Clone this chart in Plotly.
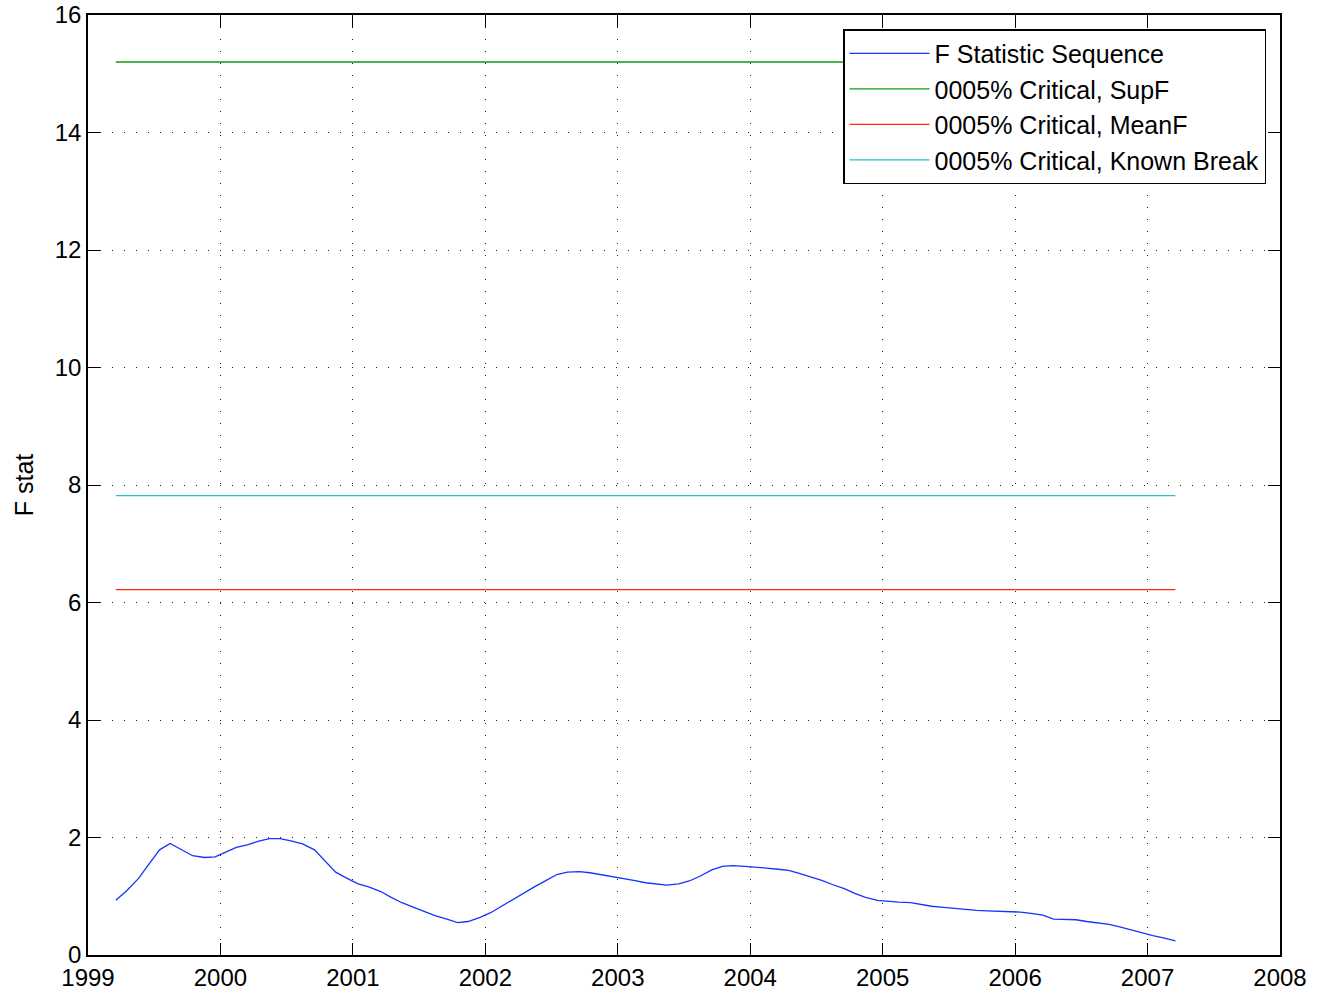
import plotly.graph_objects as go

# ---------------- data ----------------
years = [
    1999.21, 1999.29, 1999.38, 1999.46, 1999.54, 1999.62, 1999.71, 1999.79, 1999.88, 1999.96,
    2000.04, 2000.12, 2000.21, 2000.29, 2000.37, 2000.45, 2000.54, 2000.62, 2000.71, 2000.79, 2000.87, 2000.96,
    2001.04, 2001.12, 2001.21, 2001.29, 2001.37, 2001.46, 2001.54, 2001.62, 2001.71, 2001.79, 2001.87, 2001.96,
    2002.04, 2002.12, 2002.21, 2002.29, 2002.37, 2002.46, 2002.54, 2002.62, 2002.71, 2002.79, 2002.87, 2002.96,
    2003.04, 2003.12, 2003.21, 2003.29, 2003.37, 2003.46, 2003.54, 2003.62, 2003.71, 2003.79, 2003.87, 2003.96,
    2004.04, 2004.12, 2004.21, 2004.29, 2004.37, 2004.46, 2004.54, 2004.62, 2004.71, 2004.79, 2004.87, 2004.96,
    2005.04, 2005.12, 2005.21, 2005.29, 2005.37, 2005.46, 2005.54, 2005.62, 2005.71, 2005.79, 2005.87, 2005.96,
    2006.04, 2006.12, 2006.21, 2006.29, 2006.37, 2006.46, 2006.54, 2006.62, 2006.71, 2006.79, 2006.87, 2006.96,
    2007.04, 2007.12, 2007.21,
]
f_stat = [
    0.93, 1.09, 1.30, 1.55, 1.79, 1.90, 1.79, 1.69, 1.66, 1.67,
    1.75, 1.83, 1.88, 1.94, 1.98, 1.98, 1.94, 1.89, 1.79, 1.60, 1.41, 1.30,
    1.21, 1.16, 1.08, 0.98, 0.89, 0.81, 0.74, 0.67, 0.61, 0.55, 0.57, 0.64,
    0.72, 0.83, 0.95, 1.06, 1.16, 1.27, 1.37, 1.41, 1.42, 1.40, 1.37, 1.33,
    1.31, 1.27, 1.23, 1.21, 1.19, 1.21, 1.26, 1.34, 1.45, 1.51, 1.52, 1.51,
    1.50, 1.48, 1.46, 1.44, 1.39, 1.33, 1.27, 1.20, 1.13, 1.05, 0.98, 0.93,
    0.91, 0.90, 0.89, 0.86, 0.83, 0.81, 0.79, 0.77, 0.76, 0.75, 0.745, 0.74,
    0.73, 0.71, 0.68, 0.61, 0.60, 0.60, 0.57, 0.55, 0.52, 0.48, 0.43, 0.38,
    0.33, 0.29, 0.24,
]
crit_supf = 15.2
crit_meanf = 6.22
crit_known = 7.82

series_names = [
    "F Statistic Sequence",
    "0005% Critical, SupF",
    "0005% Critical, MeanF",
    "0005% Critical, Known Break",
]
x_ticks = [1999, 2000, 2001, 2002, 2003, 2004, 2005, 2006, 2007, 2008]
y_ticks = [0, 2, 4, 6, 8, 10, 12, 14, 16]
y_label = "F stat"

# ---------------- figure ----------------
FONT = "Liberation Sans, Arial, Helvetica, sans-serif"
x_span = [years[0], years[-1]]

fig = go.Figure()
fig.add_trace(go.Scatter(x=years, y=f_stat, mode="lines", name=series_names[0],
                         line=dict(color="#1434FF", width=1.3)))
fig.add_trace(go.Scatter(x=x_span, y=[crit_supf, crit_supf], mode="lines", name=series_names[1],
                         line=dict(color="#109A10", width=1.3)))
fig.add_trace(go.Scatter(x=x_span, y=[crit_meanf, crit_meanf], mode="lines", name=series_names[2],
                         line=dict(color="#FF2A10", width=1.3)))
fig.add_trace(go.Scatter(x=x_span, y=[crit_known, crit_known], mode="lines", name=series_names[3],
                         line=dict(color="#20C4C4", width=1.3)))

axis_common = dict(
    showline=True, linecolor="black", linewidth=1.5, mirror="ticks",
    ticks="inside", ticklen=12, tickwidth=1, tickcolor="black",
    showgrid=True, gridcolor="#222222", gridwidth=1, griddash="1px,11px",
    zeroline=False, automargin=False, ticklabeloverflow="allow",
    tickfont=dict(family=FONT, size=24, color="black"),
)

fig.update_xaxes(range=[1999, 2008], tickvals=x_ticks, ticktext=[str(t) for t in x_ticks],
                 **axis_common)
fig.update_yaxes(range=[0, 16], tickvals=y_ticks, ticktext=[str(t) for t in y_ticks],
                 title=dict(text=y_label, font=dict(family=FONT, size=25, color="black"), standoff=14),
                 **axis_common)

fig.update_layout(
    width=1327, height=997,
    margin=dict(l=88, r=47, t=15, b=42),
    plot_bgcolor="white", paper_bgcolor="white",
    font=dict(family=FONT, size=24, color="black"),
    legend=dict(
        x=0.9883, y=0.985, xanchor="right", yanchor="top",
        bgcolor="white", bordercolor="black", borderwidth=1.5,
        font=dict(family=FONT, size=25, color="black"),
        itemwidth=80, tracegroupgap=0,
    ),
    showlegend=True,
)

# remove the default page margin so the figure fills the window exactly
fig.write_html(
    "out.html",
    config={"displayModeBar": False},
    post_script="document.body.style.margin='0';document.body.style.overflow='hidden';",
)
